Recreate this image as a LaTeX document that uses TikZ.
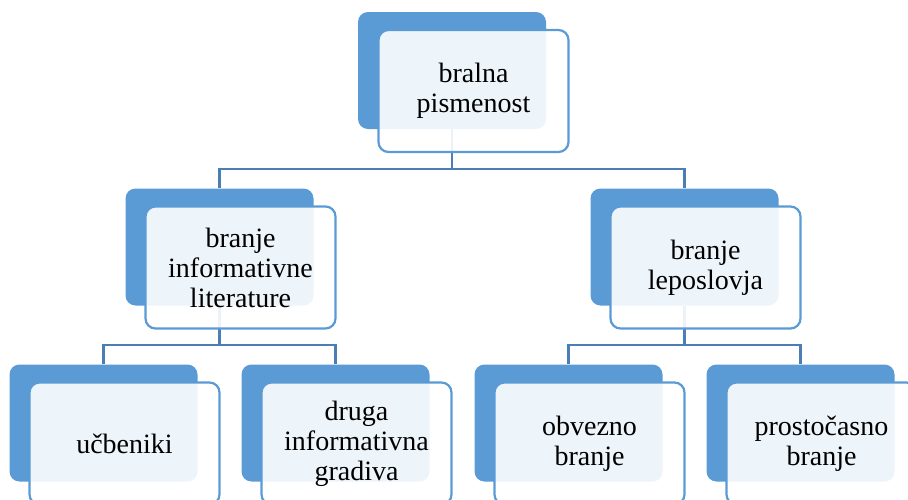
\documentclass[tikz,border=0pt]{standalone}
\usepackage{fontspec}
\setmainfont{Liberation Serif}
\definecolor{boxblue}{HTML}{5B9BD5}
\definecolor{lineblue}{HTML}{4A7EB5}
\begin{document}
\begin{tikzpicture}[x=1pt,y=-1pt,
  darkbox/.style={rectangle,rounded corners=10pt,fill=boxblue,draw=none,minimum width=188pt,minimum height=117pt,inner sep=0pt},
  lightbox/.style={rectangle,rounded corners=10pt,fill=white,fill opacity=0.9,text opacity=1,draw=boxblue,draw opacity=1,line width=2.2pt,minimum width=190pt,minimum height=122pt,inner sep=0pt,align=center,font=\fontsize{28}{30}\selectfont,text=black},
  conn/.style={draw=lineblue,line width=2.5pt}]
\useasboundingbox (0,0) rectangle (908,499);
% dark boxes
\node[darkbox] (d0) at (452,70.5) {};
\node[darkbox] (d1) at (219.5,247) {};
\node[darkbox] (d2) at (684.5,247) {};
\node[darkbox] (d3) at (103.5,423) {};
\node[darkbox] (d4) at (335.5,423) {};
\node[darkbox] (d5) at (568.5,423) {};
\node[darkbox] (d6) at (800.5,423) {};
% connectors
\coordinate (h0) at (452,169);
\coordinate (h1) at (219.5,345);
\coordinate (h2) at (684.5,345);
\draw[conn] (d0.south) -- (h0) -| (d1.north);
\draw[conn] (h0) -| (d2.north);
\draw[conn] (d1.south) -- (h1) -| (d3.north);
\draw[conn] (h1) -| (d4.north);
\draw[conn] (d2.south) -- (h2) -| (d5.north);
\draw[conn] (h2) -| (d6.north);
% light boxes
\node[lightbox] (l0) at (473.5,91) {bralna\\pismenost};
\node[lightbox] (l1) at (240.5,267.5) {branje\\informativne\\literature};
\node[lightbox] (l2) at (705.5,267.5) {branje\\leposlovja};
\node[lightbox] (l3) at (124.5,443.5) {učbeniki};
\node[lightbox] (l4) at (356.5,443.5) {druga\\informativna\\gradiva};
\node[lightbox] (l5) at (589.5,443.5) {obvezno\\branje};
\node[lightbox] (l6) at (821.5,443.5) {prostočasno\\branje};
\end{tikzpicture}
\end{document}
